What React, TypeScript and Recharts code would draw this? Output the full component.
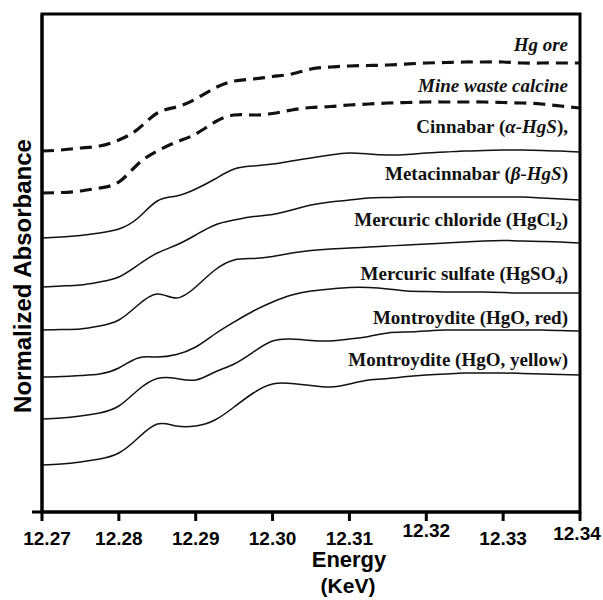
import React from "react";
import { LineChart, Line, XAxis, YAxis, ReferenceArea, ReferenceLine } from "recharts";

const energy = [12.27, 12.2725, 12.275, 12.2775, 12.28, 12.2825, 12.285, 12.2875, 12.29, 12.2925, 12.295, 12.2975, 12.3, 12.3025, 12.305, 12.3075, 12.31, 12.3125, 12.315, 12.3175, 12.32, 12.3225, 12.325, 12.3275, 12.33, 12.3325, 12.335, 12.3375, 12.34];

const hgOre = [7.22, 7.24, 7.28, 7.32, 7.44, 7.66, 7.98, 8.1, 8.26, 8.48, 8.62, 8.66, 8.71, 8.76, 8.86, 8.9, 8.92, 8.93, 8.94, 8.96, 8.98, 8.99, 9.0, 9.0, 9.0, 8.98, 8.98, 8.98, 8.98];
const mineWaste = [6.38, 6.39, 6.42, 6.48, 6.6, 6.96, 7.22, 7.4, 7.56, 7.8, 7.94, 7.94, 7.97, 8.04, 8.09, 8.11, 8.14, 8.16, 8.18, 8.19, 8.2, 8.2, 8.2, 8.2, 8.19, 8.18, 8.16, 8.12, 8.08];
const cinnabar = [5.48, 5.5, 5.53, 5.58, 5.66, 5.88, 6.22, 6.32, 6.46, 6.66, 6.86, 6.92, 6.96, 7.02, 7.08, 7.14, 7.18, 7.16, 7.14, 7.15, 7.18, 7.2, 7.22, 7.23, 7.24, 7.24, 7.23, 7.22, 7.2];
const metacinnabar = [4.5, 4.52, 4.54, 4.6, 4.7, 4.94, 5.18, 5.34, 5.54, 5.74, 5.84, 5.91, 5.95, 6.04, 6.14, 6.2, 6.24, 6.28, 6.29, 6.3, 6.3, 6.3, 6.3, 6.3, 6.3, 6.3, 6.28, 6.26, 6.24];
const chloride = [3.64, 3.65, 3.66, 3.72, 3.84, 4.14, 4.36, 4.28, 4.5, 4.84, 5.04, 5.07, 5.11, 5.18, 5.23, 5.26, 5.28, 5.3, 5.32, 5.34, 5.36, 5.38, 5.4, 5.42, 5.43, 5.42, 5.41, 5.4, 5.38];
const sulfate = [2.7, 2.71, 2.73, 2.76, 2.88, 3.08, 3.1, 3.15, 3.3, 3.56, 3.8, 4.02, 4.2, 4.34, 4.42, 4.46, 4.49, 4.49, 4.46, 4.42, 4.41, 4.4, 4.4, 4.4, 4.39, 4.38, 4.38, 4.38, 4.38];
const hgoRed = [1.86, 1.88, 1.92, 1.98, 2.12, 2.44, 2.67, 2.67, 2.64, 2.8, 2.96, 3.2, 3.42, 3.46, 3.43, 3.42, 3.46, 3.51, 3.58, 3.6, 3.62, 3.64, 3.64, 3.64, 3.64, 3.64, 3.64, 3.63, 3.62];
const hgoYellow = [0.94, 0.96, 1.0, 1.06, 1.18, 1.48, 1.76, 1.72, 1.72, 1.84, 2.1, 2.38, 2.56, 2.57, 2.53, 2.5, 2.56, 2.64, 2.67, 2.71, 2.74, 2.76, 2.78, 2.78, 2.78, 2.77, 2.76, 2.75, 2.74];

const xTicks = [12.27, 12.28, 12.29, 12.3, 12.31, 12.32, 12.33, 12.34];
const yDomain = [0, 9.96];

const data = energy.map((e, i) => ({
  e,
  hgOre: hgOre[i],
  mineWaste: mineWaste[i],
  cinnabar: cinnabar[i],
  metacinnabar: metacinnabar[i],
  chloride: chloride[i],
  sulfate: sulfate[i],
  hgoRed: hgoRed[i],
  hgoYellow: hgoYellow[i],
}));

const SERIF = "'Liberation Serif', 'Times New Roman', serif";
const SANS = "'Liberation Sans', Arial, Helvetica, sans-serif";

const sub = (t: string) => [
  <tspan key="s" dy={4} fontSize={12.5}>{t}</tspan>,
  <tspan key="r" dy={-4}>)</tspan>,
];

const series = [
  { key: "hgOre", dashed: true, dy: -12, content: [<tspan key="a" fontStyle="italic">Hg ore</tspan>] },
  { key: "mineWaste", dashed: true, dy: -16, content: [<tspan key="a" fontStyle="italic">Mine waste calcine</tspan>] },
  { key: "cinnabar", dashed: false, dy: -19, content: [<tspan key="a">Cinnabar (</tspan>, <tspan key="b" fontStyle="italic">α-HgS</tspan>, <tspan key="c">),</tspan>] },
  { key: "metacinnabar", dashed: false, dy: -20, content: [<tspan key="a">Metacinnabar (</tspan>, <tspan key="b" fontStyle="italic">β-HgS</tspan>, <tspan key="c">)</tspan>] },
  { key: "chloride", dashed: false, dy: -17, content: [<tspan key="a">Mercuric chloride (HgCl</tspan>, ...sub("2")] },
  { key: "sulfate", dashed: false, dy: -13, content: [<tspan key="a">Mercuric sulfate (HgSO</tspan>, ...sub("4")] },
  { key: "hgoRed", dashed: false, dy: -7, content: [<tspan key="a">Montroydite (HgO, red)</tspan>] },
  { key: "hgoYellow", dashed: false, dy: -9, content: [<tspan key="a">Montroydite (HgO, yellow)</tspan>] },
];

const tickLift: Record<string, number> = { "12.32": -8, "12.34": -5 };
const tickShift: Record<string, number> = { "12.27": 5, "12.34": -3 };

const XTick = (props: any) => {
  const { x, y, payload } = props;
  const label = Number(payload.value).toFixed(2);
  const lift = tickLift[label] || 0;
  const shift = tickShift[label] || 0;
  return (
    <text x={x + shift} y={y + 22 + lift} textAnchor="middle" fontFamily={SANS} fontWeight="bold" fontSize={19} fill="#000">
      {label}
    </text>
  );
};

const makeLabel = (s: any) => (props: any) => {
  if (props.index !== energy.length - 1) return <g key={`l-${s.key}-${props.index}`} />;
  return (
    <text
      key={`l-${s.key}`}
      x={props.x - 12}
      y={props.y + s.dy}
      textAnchor="end"
      fontFamily={SERIF}
      fontWeight="bold"
      fontSize={19}
      fill="#111"
    >
      {s.content}
    </text>
  );
};

export default function App() {
  return (
    <div style={{ position: "absolute", left: 0, top: 0, background: "#fff" }}>
      <LineChart width={603} height={600} data={data} margin={{ top: 14, right: 23, bottom: 0, left: 12 }}>
        <XAxis
          dataKey="e"
          type="number"
          domain={[12.27, 12.34]}
          ticks={xTicks}
          allowDataOverflow
          height={88}
          tickSize={9}
          axisLine={{ stroke: "#000", strokeWidth: 3 }}
          tickLine={{ stroke: "#000", strokeWidth: 3 }}
          tick={<XTick />}
          label={() => (
            <g>
              <text x={349} y={567} textAnchor="middle" fontFamily={SANS} fontWeight="bold" fontSize={22} fill="#000">Energy</text>
              <text x={348} y={593} textAnchor="middle" fontFamily={SANS} fontWeight="bold" fontSize={21} fill="#000">(KeV)</text>
            </g>
          )}
        />
        <YAxis
          type="number"
          domain={yDomain}
          width={30}
          tick={false}
          tickLine={false}
          axisLine={{ stroke: "#000", strokeWidth: 3 }}
          label={() => (
            <text x={31} y={276} transform="rotate(-90, 31, 276)" textAnchor="middle" fontFamily={SANS} fontWeight="bold" fontSize={24} fill="#000">
              Normalized Absorbance
            </text>
          )}
        />
        <ReferenceArea x1={12.27} x2={12.34} y1={0} y2={9.96} fill="none" fillOpacity={0} stroke="#000" strokeWidth={3} ifOverflow="visible" />
        <ReferenceLine segment={[{ x: 12.2687, y: 0 }, { x: 12.27, y: 0 }]} stroke="#000" strokeWidth={3} ifOverflow="visible" />
        {series.map((s) => (
          <Line
            key={s.key}
            dataKey={s.key}
            type="natural"
            stroke="#111"
            strokeWidth={s.dashed ? 3.2 : 1.5}
            strokeDasharray={s.dashed ? "12 7" : undefined}
            dot={false}
            activeDot={false}
            isAnimationActive={false}
            label={makeLabel(s)}
          />
        ))}
      </LineChart>
    </div>
  );
}
